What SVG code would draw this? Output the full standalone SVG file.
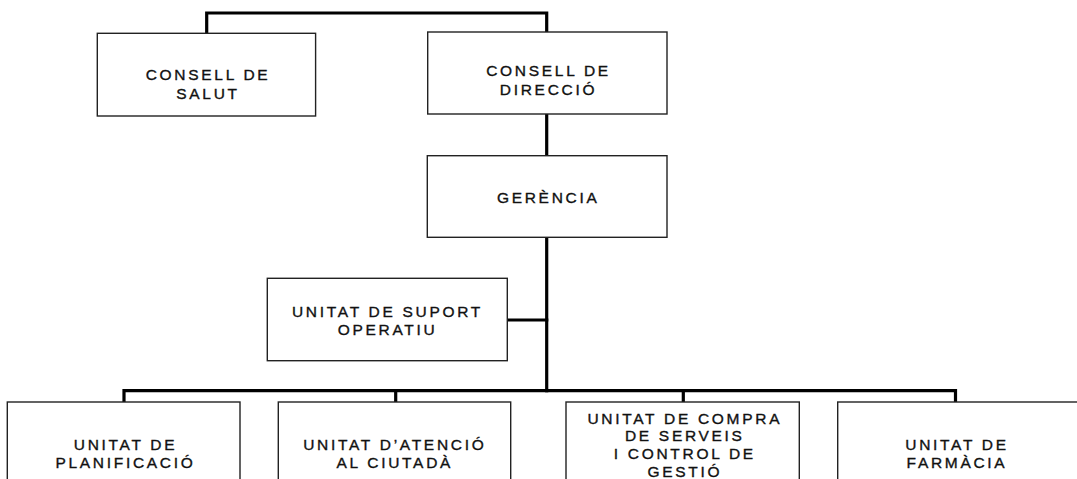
<svg xmlns="http://www.w3.org/2000/svg" width="1077" height="479" viewBox="0 0 1077 479">
<style>
.box{fill:#fff;stroke:#222;stroke-width:1.4}
.lbl{font-family:"Liberation Sans",Arial,sans-serif;font-size:15.5px;letter-spacing:2.7px;fill:#111;stroke:#111;stroke-width:0.35;text-anchor:middle}
.conn{fill:none;stroke:#000;stroke-width:3.2;stroke-linejoin:miter;stroke-linecap:square}
</style>
<rect width="1077" height="479" fill="#fff"/>
<g id="connectors">
<path class="conn" d="M206.7,33 V13 H546.7 V32"/>
<path class="conn" d="M546.7,114 V155"/>
<path class="conn" d="M546.7,237 V390.7"/>
<path class="conn" d="M507,320 H546.7"/>
<path class="conn" d="M124,402 V390.7 H955.5 V402"/>
<path class="conn" d="M395.7,390.7 V402"/>
<path class="conn" d="M683.3,390.7 V402"/>
</g>
<g id="consell-salut">
<rect class="box" x="97.3" y="33.3" width="218.3" height="82.7"/>
<text class="lbl" x="208" y="80">CONSELL DE</text>
<text class="lbl" x="208" y="99">SALUT</text>
</g>
<g id="consell-direccio">
<rect class="box" x="427.7" y="32" width="239.3" height="82"/>
<text class="lbl" x="548.5" y="75.5">CONSELL DE</text>
<text class="lbl" x="548.5" y="94.5">DIRECCIÓ</text>
</g>
<g id="gerencia">
<rect class="box" x="427.3" y="155.7" width="239.7" height="81.6"/>
<text class="lbl" x="548.2" y="202.5">GERÈNCIA</text>
</g>
<g id="suport-operatiu">
<rect class="box" x="267.3" y="278.3" width="240" height="82.4"/>
<text class="lbl" x="387.5" y="316.7">UNITAT DE SUPORT</text>
<text class="lbl" x="387.5" y="334.5">OPERATIU</text>
</g>
<g id="planificacio">
<rect class="box" x="7.3" y="402" width="232.7" height="90"/>
<text class="lbl" x="125.5" y="450">UNITAT DE</text>
<text class="lbl" x="125.5" y="467.5">PLANIFICACIÓ</text>
</g>
<g id="atencio-ciutada">
<rect class="box" x="278.3" y="402" width="232.4" height="90"/>
<text class="lbl" x="394.8" y="450">UNITAT D’ATENCIÓ</text>
<text class="lbl" x="394.8" y="467.5">AL CIUTADÀ</text>
</g>
<g id="compra-serveis">
<rect class="box" x="566" y="402" width="233.3" height="90"/>
<text class="lbl" x="684.8" y="423.5">UNITAT DE COMPRA</text>
<text class="lbl" x="684.8" y="441.3">DE SERVEIS</text>
<text class="lbl" x="684.8" y="459">I CONTROL DE</text>
<text class="lbl" x="684.8" y="476.7">GESTIÓ</text>
</g>
<g id="farmacia">
<rect class="box" x="837.7" y="402" width="260" height="90"/>
<text class="lbl" x="957" y="450">UNITAT DE</text>
<text class="lbl" x="957" y="467.5">FARMÀCIA</text>
</g>
</svg>
